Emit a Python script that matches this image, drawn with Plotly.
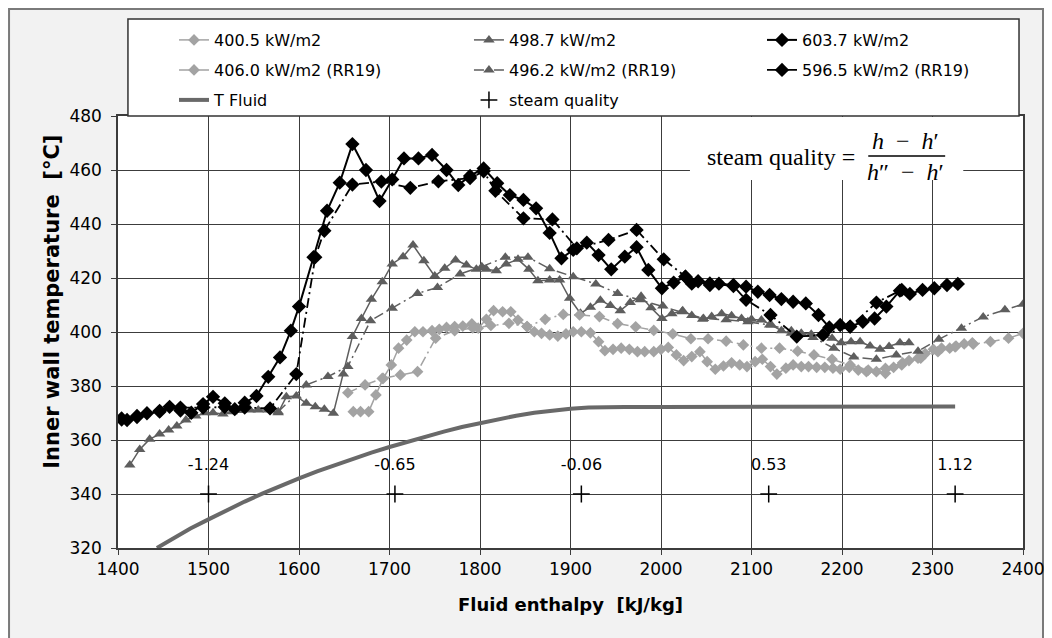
import plotly.graph_objects as go

# ---------------- data ----------------
h_603 = [1404, 1410, 1421, 1432, 1446, 1457, 1469, 1481, 1494, 1505, 1518, 1529, 1540, 1553, 1566, 1579,
         1591, 1600, 1616, 1631, 1645, 1659, 1674, 1689, 1703, 1716, 1732, 1747, 1763, 1776, 1789, 1804,
         1819, 1833, 1848, 1862, 1877, 1890, 1903, 1918, 1931, 1945, 1960, 1973, 1986, 2001, 2014, 2027,
         2034, 2041, 2054, 2064, 2080, 2094, 2107, 2120, 2133, 2146, 2160, 2174, 2186, 2198, 2209, 2223,
         2236, 2249, 2264, 2275, 2289, 2302, 2316, 2328]
T_603 = [368.0, 367.4, 368.9, 369.9, 370.5, 372.3, 370.9, 370.1, 373.3, 376.0, 373.6, 371.4, 373.8, 376.3, 383.4, 390.6,
         400.5, 409.4, 427.7, 444.9, 455.3, 469.6, 460.0, 448.5, 456.5, 464.3, 464.3, 465.6, 460.0, 454.4, 457.8, 460.6,
         455.1, 450.7, 448.9, 445.8, 436.7, 427.3, 430.4, 433.1, 428.5, 423.2, 427.9, 431.4, 423.0, 416.2, 418.3, 420.5,
         417.9, 418.8, 417.4, 417.9, 417.4, 416.8, 414.9, 413.7, 412.2, 411.2, 410.6, 406.3, 401.7, 402.6, 402.0, 403.8,
         405.0, 409.4, 415.3, 414.1, 415.6, 416.2, 417.4, 417.8]

h_596 = [1404, 1421, 1446, 1469, 1494, 1518, 1540, 1568, 1597, 1618, 1628, 1659, 1691, 1723, 1754, 1789,
         1804, 1817, 1848, 1880, 1907, 1942, 1973, 2003, 2027, 2054, 2080, 2094, 2121, 2150, 2179, 2209,
         2238, 2266]
T_596 = [367.6, 368.5, 370.8, 372.0, 372.0, 372.2, 372.0, 371.7, 384.4, 427.7, 437.5, 454.6, 455.7, 453.4, 455.8, 457.0,
         459.5, 452.3, 442.1, 441.7, 431.0, 434.1, 437.8, 426.9, 420.5, 418.0, 417.0, 411.9, 406.3, 398.3, 398.9, 402.0,
         410.9, 415.6]

h_498 = [1413, 1424, 1435, 1446, 1456, 1465, 1475, 1486, 1496, 1505, 1516, 1526, 1535, 1546, 1555, 1566,
         1577, 1586, 1597, 1608, 1618, 1628, 1638, 1649, 1659, 1669, 1680, 1692, 1703, 1715, 1726, 1738,
         1750, 1761, 1773, 1785, 1796, 1807, 1818, 1829, 1842, 1854, 1864, 1877, 1888, 1899, 1911, 1922,
         1933, 1944, 1955, 1966, 1978, 1989, 2001, 2012, 2024, 2034, 2046, 2056, 2067, 2078, 2089, 2100,
         2111, 2122, 2133, 2144, 2155, 2166, 2189, 2199, 2210, 2220, 2231, 2242, 2252, 2264, 2274]
T_498 = [350.7, 356.5, 360.3, 362.2, 363.7, 365.2, 367.4, 368.9, 370.1, 370.1, 369.6, 370.5, 370.9, 371.1, 371.1, 371.1,
         370.1, 376.0, 376.3, 373.6, 372.3, 371.4, 369.9, 384.4, 398.3, 405.0, 412.1, 418.6, 425.2, 427.9, 432.2, 426.4,
         420.7, 423.6, 426.7, 424.8, 423.2, 423.2, 422.7, 425.2, 426.9, 423.2, 419.0, 419.3, 419.3, 412.5, 406.9, 409.2,
         411.8, 409.8, 407.9, 410.9, 413.2, 409.0, 405.0, 406.8, 407.9, 406.1, 404.7, 405.7, 406.8, 406.0, 405.0, 404.7,
         404.4, 402.6, 400.5, 399.5, 399.5, 399.2, 397.7, 396.0, 396.4, 396.4, 394.8, 393.6, 394.6, 396.0, 396.0]

h_496 = [1577, 1608, 1632, 1654, 1679, 1703, 1731, 1753, 1778, 1802, 1828, 1853, 1877, 1903, 1928, 1952,
         1977, 2002, 2023, 2047, 2072, 2096, 2120, 2144, 2168, 2191, 2213, 2238, 2260, 2284, 2307, 2332,
         2356, 2380, 2400]
T_496 = [370.5, 380.4, 383.5, 387.2, 404.2, 408.8, 414.3, 416.5, 421.5, 424.2, 427.7, 427.7, 423.4, 420.5, 417.8, 414.3,
         411.9, 409.6, 407.5, 405.0, 404.5, 403.8, 402.6, 400.5, 398.0, 394.0, 390.7, 389.9, 391.5, 392.9, 397.3, 401.4,
         405.6, 408.2, 410.3]

h_400 = [1660, 1668, 1677, 1685, 1693, 1702, 1710, 1719, 1728, 1737, 1747, 1755, 1763, 1772, 1781, 1791,
         1798, 1807, 1815, 1825, 1834, 1842, 1852, 1860, 1868, 1877, 1886, 1895, 1903, 1912, 1922, 1931,
         1938, 1947, 1956, 1965, 1974, 1982, 1992, 2000, 2008, 2017, 2025, 2034, 2043, 2051, 2060, 2069,
         2078, 2087, 2095, 2104, 2112, 2121, 2128, 2138, 2146, 2155, 2163, 2172, 2181, 2190, 2198, 2208,
         2218, 2227, 2238, 2248, 2257, 2266, 2274, 2284, 2292, 2301, 2310, 2319, 2326, 2335, 2344]
T_400 = [370.5, 370.5, 370.5, 376.7, 382.8, 387.8, 394.0, 397.0, 400.1, 400.1, 400.5, 401.0, 401.7, 402.0, 402.2, 403.0,
         401.4, 404.7, 407.9, 407.5, 407.5, 404.4, 402.0, 400.1, 399.5, 398.9, 398.5, 399.3, 400.1, 400.1, 399.7, 396.4,
         393.1, 393.6, 394.0, 393.6, 392.7, 392.7, 392.7, 393.6, 394.3, 391.5, 389.4, 390.9, 392.7, 389.0, 386.2, 387.4,
         388.6, 387.8, 387.2, 389.0, 389.9, 387.2, 384.4, 386.6, 387.8, 387.2, 387.2, 386.9, 386.9, 386.6, 386.2, 386.9,
         385.9, 385.3, 385.3, 384.7, 386.9, 387.8, 389.4, 390.3, 392.0, 393.6, 394.0, 394.0, 394.8, 395.6, 396.0]

h_406 = [1654, 1673, 1692, 1712, 1731, 1751, 1772, 1792, 1812, 1832, 1852, 1872, 1892, 1910, 1932, 1952,
         1972, 1992, 2013, 2033, 2052, 2072, 2091, 2111, 2131, 2151, 2169, 2189, 2209, 2229, 2248, 2267,
         2287, 2306, 2325, 2345, 2364, 2384, 2400]
T_406 = [377.5, 380.4, 382.8, 384.1, 385.3, 397.7, 400.5, 401.5, 402.4, 403.2, 402.0, 404.7, 406.5, 406.3, 405.7, 403.1,
         401.9, 400.6, 399.3, 397.5, 397.5, 396.6, 395.2, 394.0, 394.0, 392.9, 391.5, 389.9, 387.8, 385.9, 386.5, 388.6,
         390.3, 392.7, 394.5, 395.5, 396.4, 397.7, 399.5]

h_fluid = [1443, 1460, 1480, 1500, 1520, 1540, 1560, 1580, 1600, 1620, 1640, 1660, 1680, 1700, 1720, 1740,
           1760, 1780, 1800, 1820, 1840, 1860, 1880, 1900, 1920, 1940, 1960, 2000, 2100, 2200, 2300, 2325]
T_fluid = [320.0, 323.4, 327.2, 330.6, 334.0, 337.2, 340.2, 343.1, 345.8, 348.4, 350.8, 353.1, 355.3, 357.4, 359.4, 361.3,
           363.1, 364.8, 366.3, 367.7, 369.0, 370.1, 371.0, 371.6, 372.0, 372.2, 372.2, 372.2, 372.2, 372.2, 372.3, 372.4]

h_quality = [1500, 1706, 1912, 2119, 2325]
T_quality = [340, 340, 340, 340, 340]
quality_labels = ["-1.24", "-0.65", "-0.06", "0.53", "1.12"]
T_quality_label = 350.3

x_ticks = [1400, 1500, 1600, 1700, 1800, 1900, 2000, 2100, 2200, 2300, 2400]
y_ticks = [320, 340, 360, 380, 400, 420, 440, 460, 480]

# ---------------- styles ----------------
LIGHT = "#a3a3a3"
DARK = "#5e5e5e"
BLACK = "#000000"
DASHDOT = "10px,4px,2px,4px"
SANS = "DejaVu Sans, Liberation Sans, sans-serif"
SERIF = "Liberation Serif, Times New Roman, serif"

# legend slots (paper coordinates)
COLS = [0.0619, 0.3878, 0.7116]
ROWS = [(548 - 40) / 432, (548 - 70) / 432, (548 - 100) / 432]

fig = go.Figure()


def add_series(x, y, name, color, symbol, size, width, legend, dash=None):
    fig.add_trace(go.Scatter(
        x=x, y=y, name=name, mode="lines+markers", legend=legend,
        line=dict(color=color, width=width, dash=dash),
        marker=dict(symbol=symbol, size=size, color=color),
    ))


add_series(h_400, T_400, "400.5 kW/m2", LIGHT, "diamond", 9, 1.5, "legend")
add_series(h_498, T_498, "498.7 kW/m2", DARK, "triangle-up", 10, 1.5, "legend2")
add_series(h_603, T_603, "603.7 kW/m2", BLACK, "diamond", 11, 2, "legend3")
add_series(h_406, T_406, "406.0 kW/m2 (RR19)", LIGHT, "diamond", 9, 1.5, "legend4", DASHDOT)
add_series(h_496, T_496, "496.2 kW/m2 (RR19)", DARK, "triangle-up", 10, 1.5, "legend5", DASHDOT)
add_series(h_596, T_596, "596.5 kW/m2 (RR19)", BLACK, "diamond", 11, 1.8, "legend6", DASHDOT)

fig.add_trace(go.Scatter(
    x=h_fluid, y=T_fluid, name="T Fluid", mode="lines", legend="legend7",
    line=dict(color="#696969", width=4),
))
fig.add_trace(go.Scatter(
    x=h_quality, y=T_quality, name="steam quality", mode="markers", legend="legend8",
    marker=dict(symbol="cross-thin", size=12, color=BLACK, line=dict(color=BLACK, width=1.5)),
))
fig.add_trace(go.Scatter(
    x=h_quality, y=[T_quality_label] * len(h_quality), mode="text",
    text=quality_labels, textposition="middle center",
    textfont=dict(family=SANS, size=16, color=BLACK),
    showlegend=False, hoverinfo="skip",
))

# legend frame
fig.add_shape(type="rect", xref="paper", yref="paper", x0=0.011, x1=0.9956, y0=1.0, y1=1.2245,
              fillcolor="white", line=dict(color="#333333", width=1.5), layer="above")
# white box behind the equation, covering the grid
fig.add_shape(type="rect", xref="x", yref="y", x0=2032, x1=2334, y0=456.3, y1=479.6,
              fillcolor="white", line=dict(width=0), layer="above")
# fraction bar
fig.add_shape(type="line", xref="x", yref="y", x0=2229, x1=2314, y0=465.2, y1=465.2,
              line=dict(color=BLACK, width=1.5), layer="above")
# outer frame
fig.add_shape(type="rect", xref="paper", yref="paper", x0=-0.1204, x1=1.0221, y0=-0.25, y1=1.2477,
              line=dict(color="#7a7a7a", width=2), fillcolor="rgba(0,0,0,0)", layer="below")

fig.add_annotation(x=2133, y=464.9, xref="x", yref="y", text="steam quality =",
                   showarrow=False, font=dict(family=SERIF, size=24, color=BLACK))
fig.add_annotation(x=2270, y=470.6, xref="x", yref="y", text="<i>h</i>  −  <i>h</i>′",
                   showarrow=False, font=dict(family=SERIF, size=24, color=BLACK))
fig.add_annotation(x=2270, y=459.3, xref="x", yref="y", text="<i>h</i>″  −  <i>h</i>′",
                   showarrow=False, font=dict(family=SERIF, size=24, color=BLACK))

# y axis title, placed as in the reference
fig.add_annotation(x=-0.0884, y=0.57, xref="paper", yref="paper", textangle=-90,
                   text="<b>Inner wall temperature  [°C]</b>", showarrow=False,
                   font=dict(family=SANS, size=21, color=BLACK))

legend_layouts = {}
slots = [(0, 0), (0, 1), (0, 2), (1, 0), (1, 1), (1, 2), (2, 0), (2, 1)]
for i, (r, c) in enumerate(slots):
    key = "legend" if i == 0 else "legend%d" % (i + 1)
    legend_layouts[key] = dict(
        x=COLS[c], y=ROWS[r], xanchor="left", yanchor="middle", orientation="h",
        bgcolor="rgba(0,0,0,0)", borderwidth=0,
        font=dict(family=SANS, size=16, color=BLACK),
    )

GRID = "#3c3c3c"
fig.update_layout(
    width=1044, height=630,
    margin=dict(l=110, r=29, t=108, b=90),
    paper_bgcolor="#f2f2f2",
    plot_bgcolor="white",
    font=dict(family=SANS, size=17, color=BLACK),
    showlegend=True,
    xaxis=dict(
        range=[1400, 2400], tickvals=x_ticks, showgrid=True, gridcolor=GRID, gridwidth=1.3,
        showline=True, linecolor=GRID, linewidth=1.5, mirror=True,
        ticks="outside", ticklen=5, tickcolor=GRID, zeroline=False,
        tickfont=dict(family=SANS, size=17),
        title=dict(text="<b>Fluid enthalpy  [kJ/kg]</b>", font=dict(family=SANS, size=18), standoff=20),
        automargin=False,
    ),
    yaxis=dict(
        range=[320, 480], tickvals=y_ticks, showgrid=True, gridcolor=GRID, gridwidth=1.3,
        showline=True, linecolor=GRID, linewidth=1.5, mirror=True,
        ticks="outside", ticklen=5, tickcolor=GRID, zeroline=False,
        tickfont=dict(family=SANS, size=17), ticklabelstandoff=6,
        automargin=False,
    ),
    **legend_layouts,
)

fig.write_html("out.html")
